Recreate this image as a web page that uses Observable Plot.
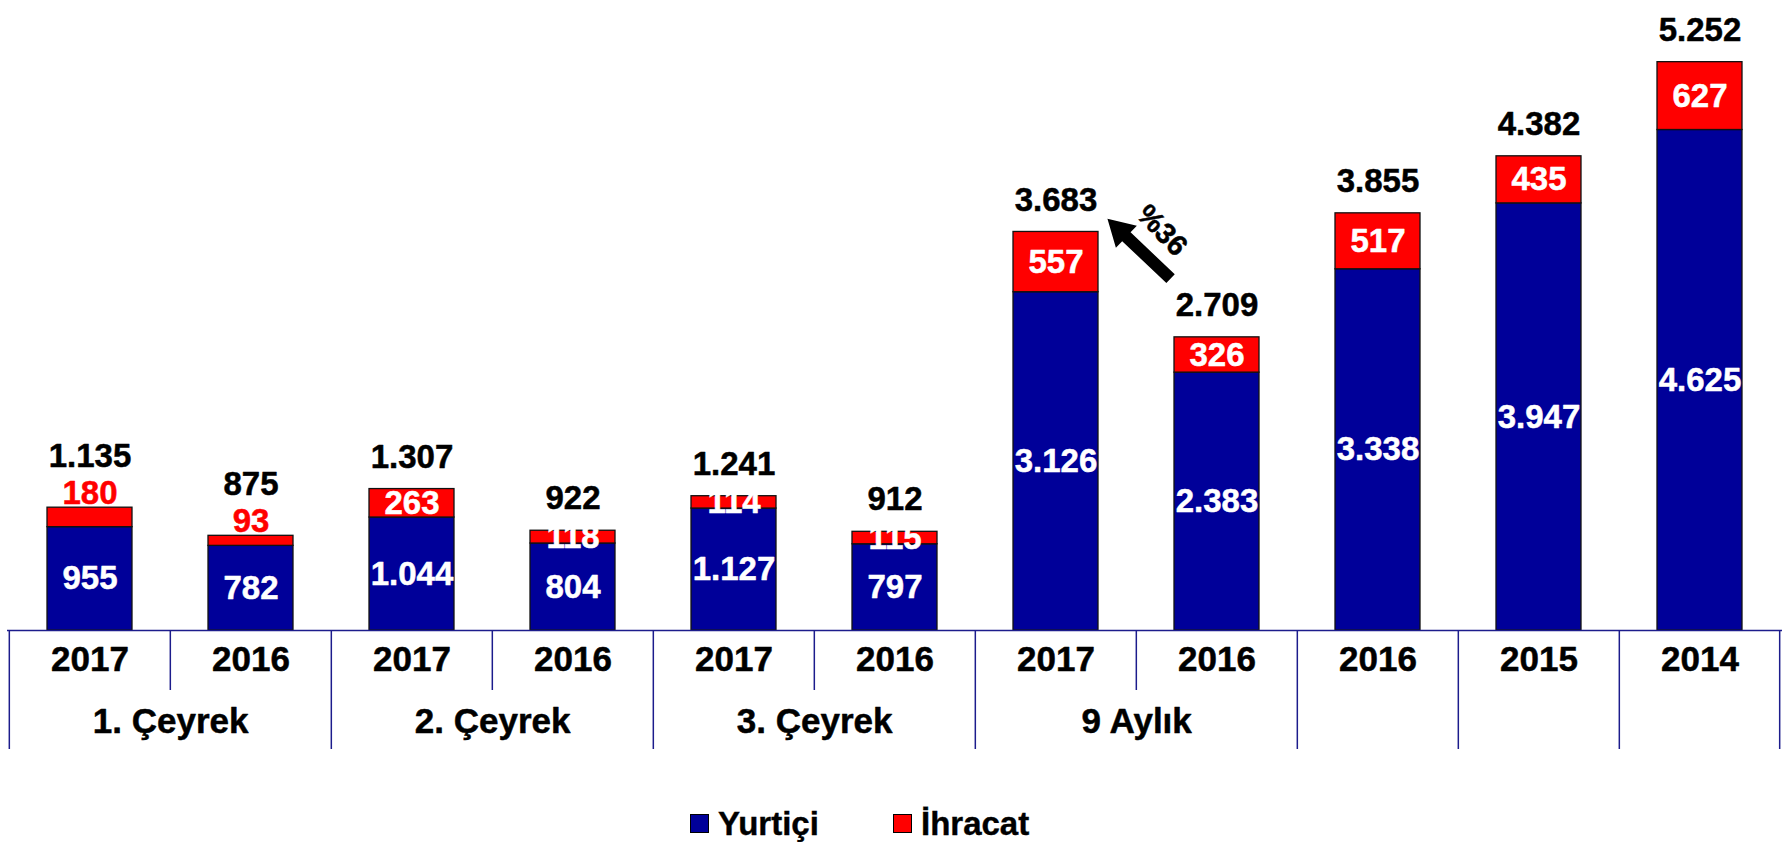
<!DOCTYPE html>
<html>
<head>
<meta charset="utf-8">
<script src="https://cdn.jsdelivr.net/npm/d3@7"></script>
<script src="https://cdn.jsdelivr.net/npm/@observablehq/plot@0.6"></script>
<style>
  html, body { margin: 0; padding: 0; background: #fff; }
  #wrap { position: relative; width: 1786px; height: 842px; font-family: "Liberation Sans", Arial, sans-serif; }
  #legend { position: relative; width: 1786px; height: 52px; }
  .item { position: absolute; top: 17px; display: flex; align-items: center; font-weight: bold; font-size: 33px; line-height: 1; color: #000; -webkit-text-stroke: 0.4px #000; }
  .sw { width: 17px; height: 17px; border: 1px solid #000; margin-right: 9px; }
</style>
</head>
<body>
<div id="wrap">
  <div id="chart"></div>
  <div id="legend"></div>
</div>
<script>
// ---- data ----
const groups  = ["1. Çeyrek","1. Çeyrek","2. Çeyrek","2. Çeyrek","3. Çeyrek","3. Çeyrek","9 Aylık","9 Aylık","","",""];
const years   = ["2017","2016","2017","2016","2017","2016","2017","2016","2016","2015","2014"];
const yurtici = [955, 782, 1044, 804, 1127, 797, 3126, 2383, 3338, 3947, 4625];
const ihracat = [180, 93, 263, 118, 114, 115, 557, 326, 517, 435, 627];
const totals  = [1135, 875, 1307, 922, 1241, 912, 3683, 2709, 3855, 4382, 5252];
const seriesNames = ["Yurtiçi", "İhracat"];
const seriesColors = ["#000099", "#FF0000"];
const outsideLabelGroups = ["1. Çeyrek"];
// annotation: growth arrow between 9-month 2016 and 2017
const arrowNote = [{index: 7, arrowValue: 3528, labelValue: 3697, text: "%36"}];

// ---- layout ----
const W = 1786, H = 790, mL = 7, mR = 4, mT = 24, mB = 160;
const step = (W - mL - mR) / years.length;
const FONT = '"Liberation Sans", Arial, sans-serif';

const fmt = d3.formatLocale({decimal: ",", thousands: ".", grouping: [3], currency: ["", ""]}).format(",d");
const keys = years.map((y, i) => `${groups[i]}|${y}|${i}`);

const segments = keys.flatMap((k, i) => [
  {key: k, series: seriesNames[0], y1: 0, y2: yurtici[i], value: yurtici[i], group: groups[i]},
  {key: k, series: seriesNames[1], y1: yurtici[i], y2: yurtici[i] + ihracat[i], value: ihracat[i], group: groups[i]}
]);
const insideSegs = segments.filter(d => !(d.series === seriesNames[1] && outsideLabelGroups.includes(d.group)));
const outsideSegs = segments.filter(d => d.series === seriesNames[1] && outsideLabelGroups.includes(d.group));

const cats = keys.map((k, i) => ({key: k, year: years[i], group: groups[i], total: totals[i],
  lifted: outsideLabelGroups.includes(groups[i])}));

const bounds = keys.map((k, i) => ({key: k, long: i === 0 || groups[i] === "" || groups[i] !== groups[i - 1]}));
const groupLabels = [];
groups.forEach((g, i) => { if (g !== "" && (i === 0 || groups[i - 1] !== g)) groupLabels.push({key: keys[i], group: g}); });
const arrows = arrowNote.map(a => ({...a, key: keys[a.index]}));

const arrowSymbol = {
  draw(context, size) {
    const L = Math.sqrt(size / Math.PI);
    const tipY = -L / 2, baseY = -L / 2 + 0.3 * L, tailY = L / 2;
    const hw = 0.175 * L, sw = 0.07 * L;
    context.moveTo(0, tipY);
    context.lineTo(hw, baseY);
    context.lineTo(sw, baseY);
    context.lineTo(sw, tailY);
    context.lineTo(-sw, tailY);
    context.lineTo(-sw, baseY);
    context.lineTo(-hw, baseY);
    context.closePath();
  }
};

const axisColor = "#1c1c8c";
const txt = (fill) => ({fill, stroke: fill, strokeWidth: 0.5, fontWeight: "bold"});

const chart = Plot.plot({
  width: W, height: H,
  marginLeft: mL, marginRight: mR, marginTop: mT, marginBottom: mB,
  style: {fontFamily: FONT, background: "white"},
  x: {domain: keys, paddingInner: 0.47, paddingOuter: 0.235, axis: null},
  y: {domain: [0, 5600], axis: null},
  color: {domain: seriesNames, range: seriesColors},
  marks: [
    Plot.barY(segments, {x: "key", y1: "y1", y2: "y2", fill: "series", stroke: "#111", strokeWidth: 1.3}),
    // segment labels
    Plot.text(insideSegs, {x: "key", y: d => (d.y1 + d.y2) / 2, text: d => fmt(d.value), fontSize: 33, ...txt("white")}),
    Plot.text(outsideSegs, {x: "key", y: "y2", text: d => fmt(d.value), fontSize: 33, dy: -14, ...txt(seriesColors[1])}),
    // totals
    Plot.text(cats.filter(d => !d.lifted), {x: "key", y: "total", text: d => fmt(d.total), fontSize: 33, dy: -32, ...txt("black")}),
    Plot.text(cats.filter(d => d.lifted), {x: "key", y: "total", text: d => fmt(d.total), fontSize: 33, dy: -51, ...txt("black")}),
    // axis line
    Plot.ruleY([0], {stroke: axisColor, strokeWidth: 1.5}),
    // category dividers
    Plot.ruleX(bounds.filter(d => !d.long), {x: "key", y1: 0, y2: 0, dx: -step / 2, insetBottom: -60, stroke: axisColor, strokeWidth: 1.5}),
    Plot.ruleX(bounds.filter(d => d.long), {x: "key", y1: 0, y2: 0, dx: -step / 2, insetBottom: -119, stroke: axisColor, strokeWidth: 1.5}),
    Plot.ruleX([keys[keys.length - 1]], {x: d => d, y1: 0, y2: 0, dx: step / 2 - 1, insetBottom: -119, stroke: axisColor, strokeWidth: 1.5}),
    // year labels
    Plot.text(cats, {x: "key", text: "year", frameAnchor: "bottom", dy: 40, fontSize: 35, ...txt("black")}),
    // group labels
    Plot.text(groupLabels, {x: "key", text: "group", frameAnchor: "bottom", dy: 102, dx: step / 2, fontSize: 35, ...txt("black")}),
    // growth arrow annotation
    Plot.dot(arrows, {x: "key", y: "arrowValue", r: 87, symbol: arrowSymbol, rotate: -46.5, fill: "black", stroke: "none", dx: -78}),
    Plot.text(arrows, {x: "key", y: "labelValue", text: "text", rotate: 46, dx: -55, fontSize: 29, ...txt("black")})
  ]
});
document.getElementById("chart").appendChild(chart);

// legend
const legend = document.getElementById("legend");
const legendLeft = [690, 893];
seriesNames.forEach((name, i) => {
  const item = document.createElement("div");
  item.className = "item";
  item.style.left = legendLeft[i] + "px";
  const sw = document.createElement("span");
  sw.className = "sw";
  sw.style.background = seriesColors[i];
  const t = document.createElement("span");
  t.textContent = name;
  item.appendChild(sw);
  item.appendChild(t);
  legend.appendChild(item);
});
</script>
</body>
</html>
